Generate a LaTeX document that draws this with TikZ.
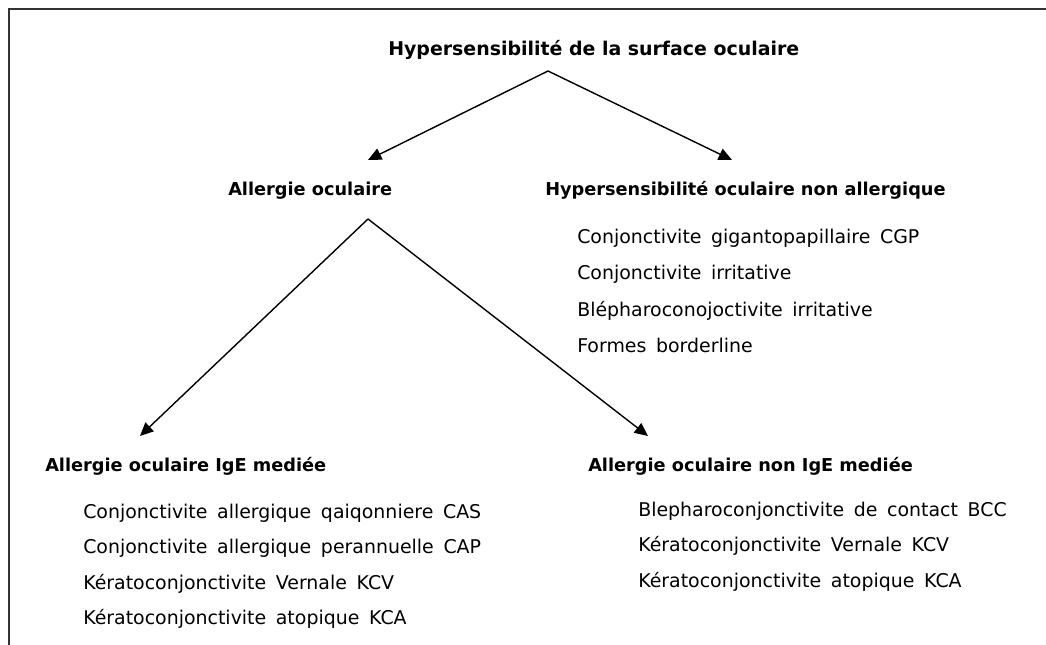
\documentclass[tikz,border=0pt]{standalone}
\usepackage{fontspec}
\setmainfont[WordSpace=1.6]{DejaVu Sans}
\usepackage{tikz}
\usetikzlibrary{arrows.meta,positioning}

% bold headings keep the plain word spacing
\newcommand{\headfont}[1]{\fontsize{#1}{16}\selectfont\bfseries\spaceskip=0.348em plus 0.1em\relax}

\begin{document}
\begin{tikzpicture}[
    x=0.75pt, y=-0.75pt,
    head/.style={anchor=base west, inner sep=0pt, font={\headfont{13.3}}},
    toptext/.style={anchor=base west, inner sep=0pt, font={\headfont{14.2}}},
    item/.style={anchor=base west, inner sep=0pt, font=\fontsize{14.2}{16}\selectfont},
    edge/.style={-{Triangle[length=10pt, width=9pt]}, line width=1.05pt}
]
    \useasboundingbox (0,0) rectangle (1046,645);
    % frame, only top and left edges show
    \draw[line width=1.6pt, black!80] (9,645) -- (9,9) -- (1046,9);

    \node[toptext] (hyper) at (388,56) {Hypersensibilité de la surface oculaire};
    \node[head] (allergie) at (228,196) {Allergie oculaire};
    \node[head] (nonall) at (545,196) {Hypersensibilité oculaire non allergique};

    \node[item] (cgp) at (577,244) {Conjonctivite gigantopapillaire CGP};
    \node[item] (irr) at (577,280) {Conjonctivite irritative};
    \node[item] (bleph) at (577,316) {Blépharoconojoctivite irritative};
    \node[item] (border) at (577,352) {Formes borderline};

    \node[head] (ige) at (45,471) {Allergie oculaire IgE mediée};
    \node[item] (cas) at (83,518) {Conjonctivite allergique qaiqonniere CAS};
    \node[item] (cap) at (83,553) {Conjonctivite allergique perannuelle CAP};
    \node[item] (kcv) at (83,589) {Kératoconjonctivite Vernale KCV};
    \node[item] (kca) at (83,624) {Kératoconjonctivite atopique KCA};

    \node[head] (nonige) at (588,471) {Allergie oculaire non IgE mediée};
    \node[item] (bcc) at (638,516) {Blepharoconjonctivite de contact BCC};
    \node[item] (kcv2) at (638,551) {Kératoconjonctivite Vernale KCV};
    \node[item] (kca2) at (638,587) {Kératoconjonctivite atopique KCA};

    % branching points and arrow tips
    \coordinate (top1) at (548,71);
    \coordinate (allergie-in) at (368,160);
    \coordinate (nonall-in) at (732,160);
    \coordinate (top2) at (368,219);
    \coordinate (ige-in) at (140,436);
    \coordinate (nonige-in) at (648,436);

    \draw[edge] (top1) -- (allergie-in);
    \draw[edge] (top1) -- (nonall-in);
    \draw[edge] (top2) -- (ige-in);
    \draw[edge] (top2) -- (nonige-in);
\end{tikzpicture}
\end{document}
